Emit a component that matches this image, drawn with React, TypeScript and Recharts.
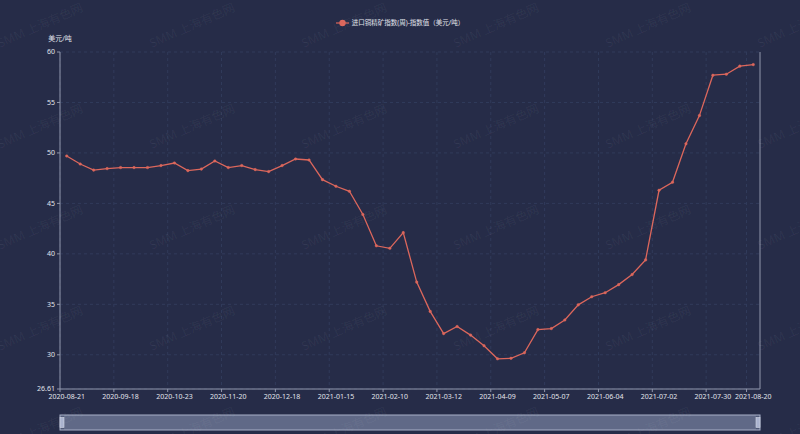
import { LineChart, Line, XAxis, YAxis, CartesianGrid, Legend, Brush, Label } from 'recharts'

// weekly index, USD/t
const dates = [
  '2020-08-21', '2020-08-28', '2020-09-04', '2020-09-11', '2020-09-18', '2020-09-25', '2020-09-30', '2020-10-16',
  '2020-10-23', '2020-10-30', '2020-11-06', '2020-11-13', '2020-11-20', '2020-11-27', '2020-12-04', '2020-12-11',
  '2020-12-18', '2020-12-25', '2020-12-31', '2021-01-08', '2021-01-15', '2021-01-22', '2021-01-29', '2021-02-05',
  '2021-02-10', '2021-02-19', '2021-02-26', '2021-03-05', '2021-03-12', '2021-03-19', '2021-03-26', '2021-04-02',
  '2021-04-09', '2021-04-16', '2021-04-23', '2021-04-30', '2021-05-07', '2021-05-14', '2021-05-21', '2021-05-28',
  '2021-06-04', '2021-06-11', '2021-06-18', '2021-06-25', '2021-07-02', '2021-07-09', '2021-07-16', '2021-07-23',
  '2021-07-30', '2021-08-06', '2021-08-13', '2021-08-20',
]

const indexValues = [
  49.7, 48.9, 48.3, 48.45, 48.55, 48.55, 48.55, 48.75,
  49.0, 48.25, 48.4, 49.2, 48.55, 48.75, 48.35, 48.15,
  48.75, 49.4, 49.3, 47.35, 46.7, 46.2, 43.9, 40.8,
  40.55, 42.1, 37.2, 34.3, 32.1, 32.8, 31.95, 30.9,
  29.6, 29.65, 30.2, 32.5, 32.6, 33.45, 34.95, 35.75,
  36.15, 36.95, 37.95, 39.4, 46.3, 47.1, 50.9, 53.7,
  57.7, 57.8, 58.6, 58.75,
]

const xTicks = [
  '2020-08-21', '2020-09-18', '2020-10-23', '2020-11-20', '2020-12-18', '2021-01-15', '2021-02-10',
  '2021-03-12', '2021-04-09', '2021-05-07', '2021-06-04', '2021-07-02', '2021-07-30', '2021-08-20',
]
const yTicks = [26.61, 30, 35, 40, 45, 50, 55, 60]

const seriesName = '进口铜精矿指数(周)-指数值（美元/吨）'
const unitLabel = '美元/吨'
const watermark = 'SMM 上海有色网'

const data = dates.map((date, i) => ({ date, value: indexValues[i] }))

const W = 800
const H = 434
const LEFT_W = 60
const RIGHT_W = 40
// echarts-style category axis: points sit in the middle of each band
const BAND = (W - LEFT_W - RIGHT_W) / dates.length
const TICK_SIZE = 3
const TICK_MARGIN = 2

const BG = '#262c48'
const LINE = '#dc675c'
const AXIS = '#9197ac'
const TEXT = '#e2e4ec'
const GRID = '#313b5b'
const FONT = "'Noto Sans', 'Noto Sans CJK SC', sans-serif"

function LegendContent() {
  return (
    <div style={{ display: 'flex', justifyContent: 'center', alignItems: 'center', gap: 3, fontFamily: FONT }}>
      <svg width={13} height={8}>
        <line x1={0} y1={4} x2={13} y2={4} stroke={LINE} strokeWidth={1.2} />
        <circle cx={6.5} cy={4} r={3.2} fill={LINE} />
      </svg>
      <span style={{ fontSize: 6.5, color: TEXT, lineHeight: '8px' }}>{seriesName}</span>
    </div>
  )
}

// label in the band centre, tick mark on the band's left edge
function DateTick(props: any) {
  const { x, y, payload } = props
  const axisY = y - TICK_SIZE - TICK_MARGIN
  const edge = x - BAND / 2
  return (
    <g>
      <line x1={edge} y1={axisY} x2={edge} y2={axisY + TICK_SIZE} stroke={AXIS} />
      <text x={x} y={y} dy="0.71em" textAnchor="middle" fill={TEXT} fontSize={7}>
        {payload.value}
      </text>
    </g>
  )
}

function Handle(props: any) {
  const { x, y, width, height } = props
  return (
    <rect x={x} y={y + height / 2 - 5} width={width} height={10} fill="#aab3cf" stroke="#d4d9e8" strokeWidth={0.6} />
  )
}

function Watermarks() {
  const cols = [0, 1, 2, 3, 4, 5]
  const rows = [0, 1, 2, 3, 4]
  return (
    <svg width={W} height={H} style={{ position: 'absolute', left: 0, top: 0, pointerEvents: 'none' }}>
      {rows.map((r) =>
        cols.map((c) => {
          const x = 40 + c * 152
          const y = 25 + r * 101
          return (
            <text
              key={`${r}-${c}`}
              x={x}
              y={y}
              transform={`rotate(-24 ${x} ${y})`}
              textAnchor="middle"
              dominantBaseline="central"
              fontSize={12}
              fontFamily={FONT}
              fill="rgba(255,255,255,0.06)"
            >
              {watermark}
            </text>
          )
        })
      )}
    </svg>
  )
}

const tickIndexes = xTicks.map((d) => dates.indexOf(d))

export default function App() {
  return (
    <div style={{ position: 'absolute', left: 0, top: 0, width: W, height: H, background: BG, fontFamily: FONT }}>
      <LineChart width={W} height={H} data={data} margin={{ top: 52, right: 0, bottom: 10, left: 0 }}>
        <CartesianGrid
          yAxisId="left"
          stroke={GRID}
          strokeDasharray="3 3"
          syncWithTicks
          verticalCoordinatesGenerator={({ offset }: any) =>
            tickIndexes.map((i) => offset.left + (i * offset.width) / dates.length)
          }
        />
        <XAxis
          dataKey="date"
          ticks={xTicks}
          interval={0}
          height={20}
          padding={{ left: BAND / 2, right: BAND / 2 }}
          stroke={AXIS}
          tickLine={false}
          tickSize={TICK_SIZE}
          tickMargin={TICK_MARGIN}
          tick={<DateTick />}
        />
        <YAxis
          yAxisId="left"
          width={LEFT_W}
          domain={[26.61, 60]}
          ticks={yTicks}
          interval={0}
          stroke={AXIS}
          tickSize={TICK_SIZE}
          tickMargin={TICK_MARGIN}
          tick={{ fill: TEXT, fontSize: 7 }}
        >
          <Label
            content={(p: any) => (
              <text x={p.viewBox.x + p.viewBox.width} y={p.viewBox.y - 11} textAnchor="middle" fill={TEXT} fontSize={7}>
                {unitLabel}
              </text>
            )}
          />
        </YAxis>
        <YAxis yAxisId="right" orientation="right" width={RIGHT_W} domain={[26.61, 60]} tick={false} tickLine={false} stroke={AXIS} />
        <Legend
          layout="horizontal"
          verticalAlign="middle"
          align="center"
          content={() => <LegendContent />}
          wrapperStyle={{ top: 19, left: 0, width: W }}
        />
        <Line
          yAxisId="left"
          type="linear"
          dataKey="value"
          name={seriesName}
          stroke={LINE}
          strokeWidth={1.3}
          dot={{ r: 1.3, fill: LINE, stroke: LINE, strokeWidth: 0.4 }}
          isAnimationActive={false}
        />
        <Brush
          dataKey="date"
          y={415}
          height={15}
          travellerWidth={4}
          fill="#4e5877"
          stroke="#a8b0c8"
          traveller={(p: any) => <Handle {...p} />}
        />
      </LineChart>
      <Watermarks />
    </div>
  )
}
